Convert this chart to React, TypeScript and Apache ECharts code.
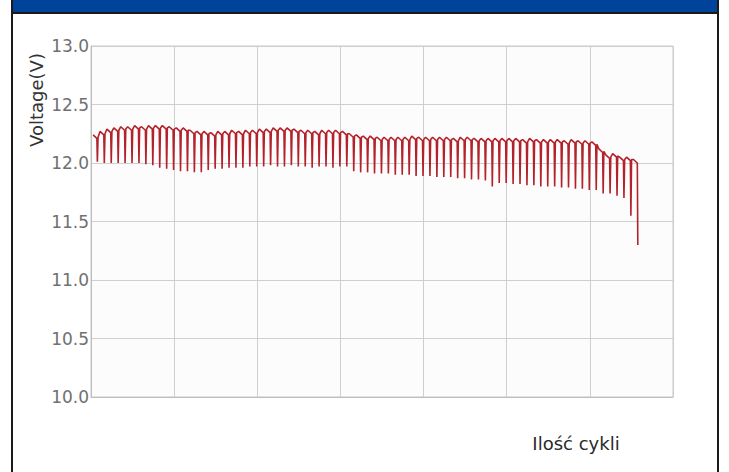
import React, { useEffect, useRef } from "react";
import * as echarts from "echarts";

// Per-cycle values
const peakVoltage: number[] = [
  12.24, 12.27, 12.29, 12.30, 12.31, 12.31, 12.32, 12.31, 12.32,
  12.32, 12.32, 12.31, 12.30, 12.30, 12.28, 12.27,
  12.27, 12.26, 12.27, 12.27, 12.28, 12.27, 12.28, 12.28, 12.29,
  12.29, 12.30, 12.30, 12.30, 12.29, 12.28, 12.28, 12.27, 12.28, 12.28, 12.28, 12.27,
  12.25, 12.24, 12.23, 12.23, 12.22, 12.22, 12.22, 12.22,
  12.22, 12.23, 12.22, 12.22, 12.22, 12.22, 12.22, 12.21, 12.22, 12.22, 12.21, 12.21,
  12.21, 12.21, 12.21, 12.21, 12.21, 12.20, 12.21, 12.20, 12.20, 12.20, 12.20, 12.19, 12.20, 12.19,
  12.19, 12.18,
  12.12, 12.07, 12.08, 12.05, 12.05, 12.03,
];
const lowVoltage: number[] = [
  12.01, 12.0, 12.0, 12.0, 12.0, 12.0, 12.0, 11.99, 11.98,
  11.96, 11.95, 11.94, 11.93, 11.93, 11.92, 11.92,
  11.94, 11.95, 11.95, 11.96, 11.96, 11.96, 11.97, 11.97, 11.97,
  11.98, 11.97, 11.97, 11.98, 11.97, 11.97, 11.96, 11.97, 11.97, 11.96, 11.97, 11.97,
  11.93, 11.92, 11.92, 11.91, 11.91, 11.91, 11.90, 11.90,
  11.90, 11.89, 11.89, 11.89, 11.88, 11.88, 11.88, 11.87, 11.87, 11.86, 11.86, 11.85,
  11.80, 11.83, 11.83, 11.82, 11.82, 11.81, 11.81, 11.80, 11.80, 11.80, 11.79, 11.79, 11.78, 11.78,
  11.77, 11.77,
  11.74, 11.74, 11.72, 11.70, 11.55, 11.30,
];
const yTicks = { min: 10, max: 13, step: 0.5 };
const xRange = { min: 0, max: 84, step: 12 };
const yTitle = "Voltage(V)";
const xTitle = "Ilość cykli";

export default function App() {
  const ref = useRef<HTMLDivElement>(null);
  useEffect(() => {
    if (!ref.current) return;
    const chart = echarts.init(ref.current, undefined, { renderer: "svg" });
    const pts: [number, number][] = [];
    const last = peakVoltage.length - 1;
    peakVoltage.forEach((p, i) => {
      const x0 = i + 0.3;
      pts.push([x0, p]);
      pts.push([x0 + 0.55, p - 0.03]);
      pts.push([x0 + 0.62, lowVoltage[i]]);
      if (i < last) pts.push([x0 + 0.72, p - 0.02]);
    });
    chart.setOption({
      animation: false,
      backgroundColor: "#ffffff",
      grid: {
        left: 91,
        top: 46,
        width: 582,
        height: 351,
        show: true,
        backgroundColor: "#fcfcfc",
        borderColor: "#c8c8c8",
        borderWidth: 1,
      },
      xAxis: {
        type: "value",
        min: xRange.min,
        max: xRange.max,
        interval: xRange.step,
        axisLabel: { show: false },
        axisTick: { show: false },
        axisLine: { show: true, lineStyle: { color: "#bdbdbd", width: 1 } },
        splitLine: { show: true, lineStyle: { color: "#cfcfcf", width: 1 } },
      },
      yAxis: {
        type: "value",
        min: yTicks.min,
        max: yTicks.max,
        interval: yTicks.step,
        axisLabel: {
          formatter: (v: number) => v.toFixed(1),
          color: "#707070",
          fontSize: 17,
          fontFamily: "DejaVu Sans",
          margin: 2,
        },
        axisTick: { show: false },
        axisLine: { show: true, lineStyle: { color: "#bdbdbd", width: 1 } },
        splitLine: { show: true, lineStyle: { color: "#cfcfcf", width: 1 } },
      },
      graphic: [
        { type: "rect", shape: { x: 11, y: 0, width: 708, height: 12 }, style: { fill: "#00439a" }, z: 10 },
        { type: "rect", shape: { x: 11, y: 12, width: 708, height: 2 }, style: { fill: "#1c1a18" }, z: 10 },
        { type: "rect", shape: { x: 11, y: 0, width: 2, height: 472 }, style: { fill: "#1c1a18" }, z: 10 },
        { type: "rect", shape: { x: 717, y: 0, width: 2, height: 472 }, style: { fill: "#1c1a18" }, z: 10 },
        {
          type: "text",
          x: 36,
          y: 100,
          rotation: Math.PI / 2,
          style: {
            text: yTitle,
            fill: "#333333",
            font: "18px 'DejaVu Sans'",
            align: "center",
            verticalAlign: "middle",
          },
        },
        {
          type: "text",
          x: 576,
          y: 443,
          style: {
            text: xTitle,
            fill: "#2a2a2a",
            font: "18px 'DejaVu Sans'",
            align: "center",
            verticalAlign: "middle",
          },
        },
      ],
      series: [
        {
          type: "line",
          data: pts,
          showSymbol: false,
          symbol: "none",
          lineStyle: { color: "#b3222a", width: 1.6 },
        },
      ],
    });
    return () => chart.dispose();
  }, []);
  return (
    <div
      ref={ref}
      style={{ position: "fixed", left: 0, top: 0, width: 729, height: 472 }}
    />
  );
}
